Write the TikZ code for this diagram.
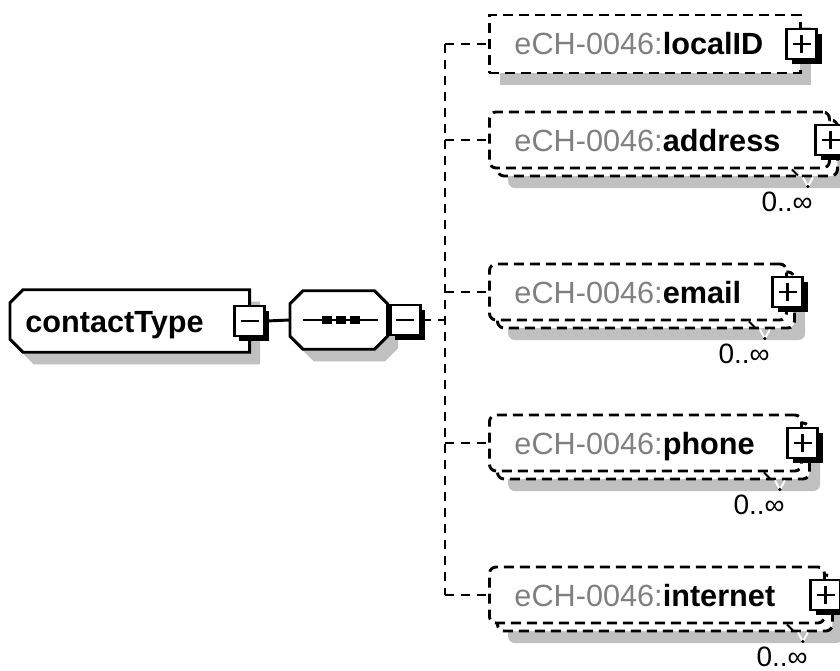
\documentclass[tikz,border=0pt]{standalone}
\usepackage{fontspec}
\setmainfont{Liberation Sans}
\usepackage{xcolor}
\usepackage{tikz}
\usetikzlibrary{shapes,shadows,backgrounds}

\definecolor{prefixgray}{HTML}{808080}
\definecolor{shadowgray}{HTML}{C0C0C0}

\tikzset{
  sh/.style={drop shadow={shadow xshift=8pt, shadow yshift=-9pt, fill=shadowgray, opacity=1}},
  line/.style={line width=2.2pt},
  conn/.style={line width=2.2pt, dash pattern=on 7pt off 5pt},
  outline/.style={draw, fill=white, line width=2.2pt, sh},
  root/.style={rectangle, inner xsep=11.25pt, inner ysep=0pt, text height=18pt, text depth=1.5pt,
    minimum height=46.5pt, align=left, anchor=west},
  compositor/.style={rectangle, inner sep=0pt, minimum width=72.75pt, minimum height=43.5pt, anchor=west},
  elem/.style={draw, fill=white, line width=2.2pt, dash pattern=on 7.5pt off 4.5pt,
    anchor=west, inner xsep=18.75pt, inner ysep=0pt, text height=18pt, text depth=1.5pt,
    align=left},
  multi/.style={elem, rounded corners=5pt, minimum height=42pt},
  pm/.style={draw, fill=white, line width=2.2pt, minimum size=22.5pt, inner sep=0pt,
    drop shadow={shadow xshift=3.5pt, shadow yshift=-3.5pt, fill=black, opacity=1}},
  plus/.style={pm, path picture={
    \draw[line width=2.2pt] ([xshift=4.5pt]path picture bounding box.west) -- ([xshift=-4.5pt]path picture bounding box.east)
      ([yshift=-4.5pt]path picture bounding box.north) -- ([yshift=4.5pt]path picture bounding box.south);}},
  minus/.style={pm, path picture={
    \draw[line width=2.2pt] ([xshift=4.5pt]path picture bounding box.west) -- ([xshift=-4.5pt]path picture bounding box.east);}},
  notch/.style={white, line width=1.5pt},
  occ/.style={anchor=north east, inner sep=0pt, font=\fontsize{21}{24}\selectfont}
}

\begin{document}
\begin{tikzpicture}[x=0.75pt, y=-0.75pt, font=\fontsize{23}{27}\selectfont]
\useasboundingbox (0,0) rectangle (840,671);
%
\node[root, text width=156.75pt] (contact) at (10,321) {\textbf{contactType}};
\node[compositor] (seq) at (290,320) {};
\begin{scope}[on background layer]
\draw[outline] ([xshift=9.75pt]contact.north west) -- (contact.north east) -- (contact.south east)
  -- ([xshift=9.75pt]contact.south west) -- ([yshift=9.75pt]contact.south west)
  -- ([yshift=-9.75pt]contact.north west) -- cycle;
\draw[outline] ([xshift=9.75pt]seq.north west) -- ([xshift=-9.75pt]seq.north east)
  -- ([yshift=-9.75pt]seq.north east) -- ([yshift=9.75pt]seq.south east)
  -- ([xshift=-9.75pt]seq.south east) -- ([xshift=9.75pt]seq.south west)
  -- ([yshift=9.75pt]seq.south west) -- ([yshift=-9.75pt]seq.north west) -- cycle;
\end{scope}
\node[minus] (contactM) at (contact.east) {};
\node[minus, anchor=west] (seqM) at ([xshift=1pt]seq.east) {};
\draw[line] ([xshift=9.75pt]seq.west) -- ([xshift=-7.5pt]seq.east);
\fill ([xshift=-9pt]seq.center) +(-5,-4) rectangle +(5,4);
\fill ([xshift=1.5pt]seq.center) +(-5,-4) rectangle +(5,4);
\fill ([xshift=12pt]seq.center) +(-5,-4) rectangle +(5,4);
%
\draw[line] (contactM.east) -- (seq.west);
\coordinate (bus) at (445,320);
\draw[conn] (seqM.east) -- (bus);
%
\node[elem, sh, minimum height=43.5pt, text width=195.75pt] (localID) at (488,44) {\textcolor{prefixgray}{eCH-0046:}\textbf{localID}};
\node[plus] (localIDP) at (localID.east) {};
%
\node[multi, sh, text width=217.5pt] (addressB) at (496,148) {};
\node[multi, text width=217.5pt] (address) at (488,140) {\textcolor{prefixgray}{eCH-0046:}\textbf{address}};
\node[plus] (addressP) at (address.east) {};
\draw[line width=1.5pt] ([xshift=-35.25pt, yshift=6pt]addressB.south east) -- ++(6,6);
\draw[notch] ([xshift=-27pt]addressB.south east) -- ++(5,9) -- ++(5,-9);
\fill ([xshift=-23.25pt, yshift=-6.75pt]addressB.south east) circle (1.3pt);
\node[occ] (addressO) at ([xshift=-19.5pt, yshift=-10.5pt]addressB.south east) {0..∞};
%
\node[multi, sh, text width=185.25pt] (emailB) at (496,300) {};
\node[multi, text width=185.25pt] (email) at (488,292) {\textcolor{prefixgray}{eCH-0046:}\textbf{email}};
\node[plus] (emailP) at (email.east) {};
\draw[line width=1.5pt] ([xshift=-35.25pt, yshift=6pt]emailB.south east) -- ++(6,6);
\draw[notch] ([xshift=-27pt]emailB.south east) -- ++(5,9) -- ++(5,-9);
\fill ([xshift=-23.25pt, yshift=-6.75pt]emailB.south east) circle (1.3pt);
\node[occ] (emailO) at ([xshift=-19.5pt, yshift=-10.5pt]emailB.south east) {0..∞};
%
\node[multi, sh, text width=196.5pt] (phoneB) at (496,451) {};
\node[multi, text width=196.5pt] (phone) at (488,443) {\textcolor{prefixgray}{eCH-0046:}\textbf{phone}};
\node[plus] (phoneP) at (phone.east) {};
\draw[line width=1.5pt] ([xshift=-35.25pt, yshift=6pt]phoneB.south east) -- ++(6,6);
\draw[notch] ([xshift=-27pt]phoneB.south east) -- ++(5,9) -- ++(5,-9);
\fill ([xshift=-23.25pt, yshift=-6.75pt]phoneB.south east) circle (1.3pt);
\node[occ] (phoneO) at ([xshift=-19.5pt, yshift=-10.5pt]phoneB.south east) {0..∞};
%
\node[multi, sh, text width=213.75pt] (internetB) at (496,603) {};
\node[multi, text width=213.75pt] (internet) at (488,595) {\textcolor{prefixgray}{eCH-0046:}\textbf{internet}};
\node[plus] (internetP) at (internet.east) {};
\draw[line width=1.5pt] ([xshift=-35.25pt, yshift=6pt]internetB.south east) -- ++(6,6);
\draw[notch] ([xshift=-27pt]internetB.south east) -- ++(5,9) -- ++(5,-9);
\fill ([xshift=-23.25pt, yshift=-6.75pt]internetB.south east) circle (1.3pt);
\node[occ] (internetO) at ([xshift=-19.5pt, yshift=-10.5pt]internetB.south east) {0..∞};
%
\draw[conn] (bus |- localID.west) -- (bus |- internet.west);
\draw[conn] (bus |- localID.west) -- (localID.west);
\draw[conn] (bus |- address.west) -- (address.west);
\draw[conn] (bus |- email.west) -- (email.west);
\draw[conn] (bus |- phone.west) -- (phone.west);
\draw[conn] (bus |- internet.west) -- (internet.west);
\end{tikzpicture}
\end{document}
